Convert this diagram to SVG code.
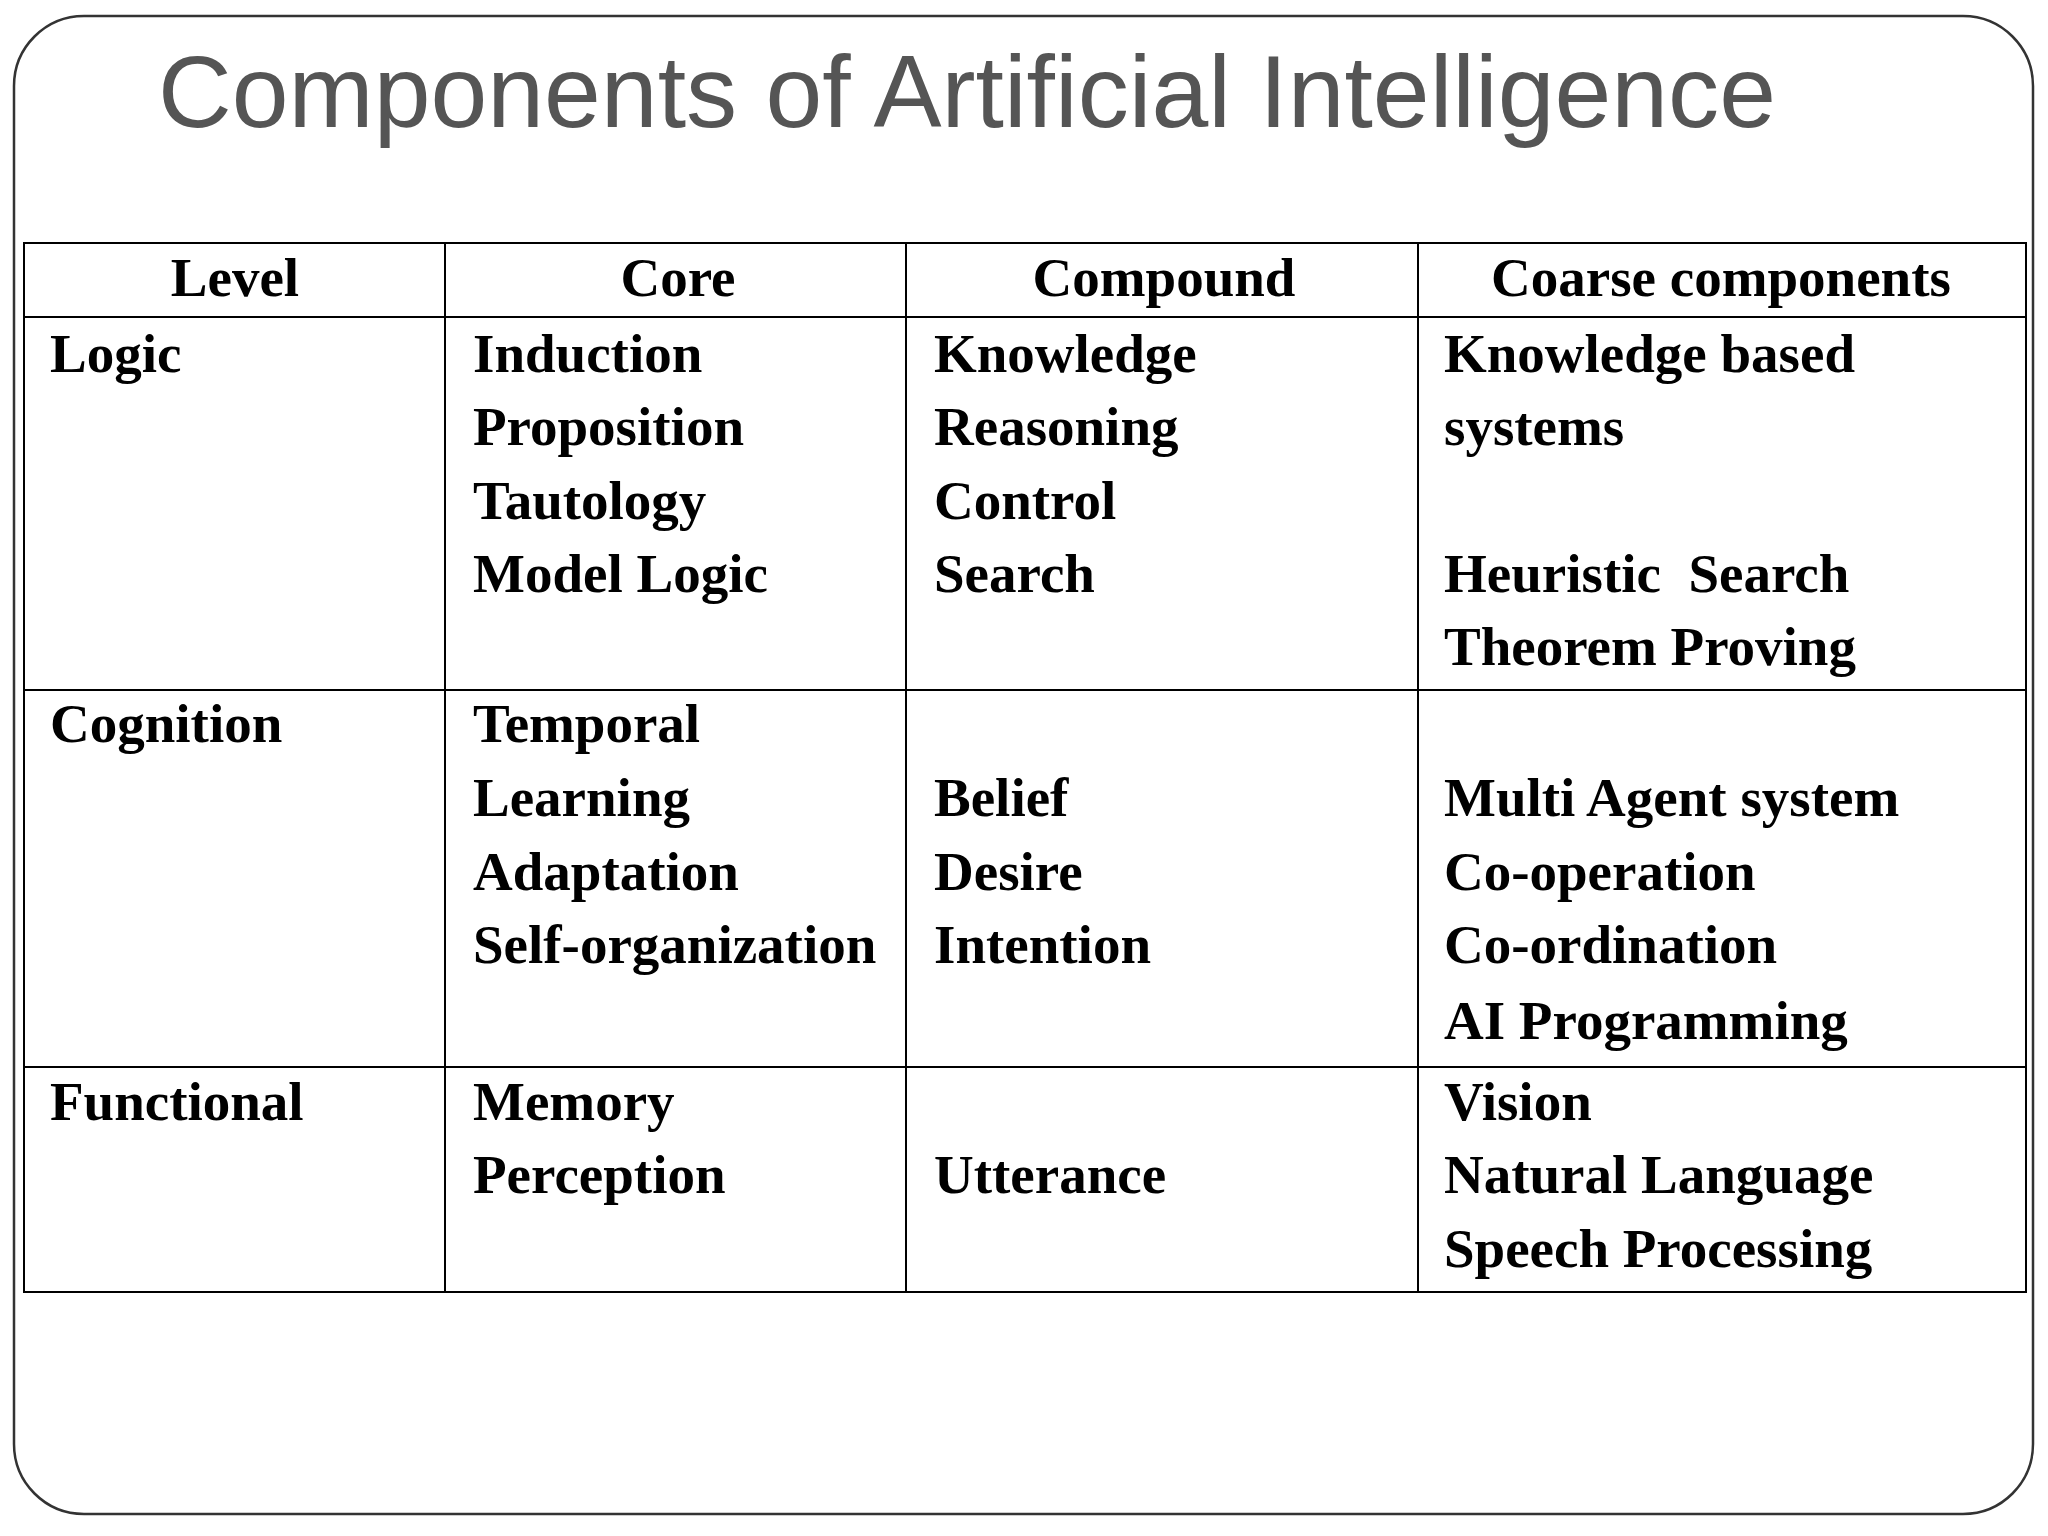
<svg xmlns="http://www.w3.org/2000/svg" width="2048" height="1536" viewBox="0 0 2048 1536">
<style>
.t{font-family:"Liberation Serif",serif;font-weight:bold;font-size:55px;fill:#000}
.h{text-anchor:middle}
.g{stroke:#000;stroke-width:2;fill:none}
</style>
<rect width="2048" height="1536" fill="#fff"/>
<rect x="14" y="16" width="2019" height="1498" rx="70" fill="#fff" stroke="#333" stroke-width="2.5"/>
<text x="158" y="127" font-family="Liberation Sans,Arial,sans-serif" font-size="102" fill="#555" textLength="1618" lengthAdjust="spacingAndGlyphs">Components of Artificial Intelligence</text>
<g id="table" class="g">
<rect x="24" y="243" width="2002" height="1049"/>
<line x1="24" y1="317" x2="2026" y2="317"/>
<line x1="24" y1="690" x2="2026" y2="690"/>
<line x1="24" y1="1067" x2="2026" y2="1067"/>
<line x1="445" y1="243" x2="445" y2="1292"/>
<line x1="906" y1="243" x2="906" y2="1292"/>
<line x1="1418" y1="243" x2="1418" y2="1292"/>
</g>
<g transform="translate(0,2)">
<g id="header" class="t h">
<text x="235" y="294">Level</text><text x="678" y="294">Core</text><text x="1164" y="294">Compound</text><text x="1721" y="294">Coarse components</text>
</g>
<g id="logic" class="t">
<text x="50" y="370">Logic</text>
<text x="473" y="370">Induction</text><text x="473" y="443">Proposition</text><text x="473" y="517">Tautology</text><text x="473" y="590">Model Logic</text>
<text x="934" y="370">Knowledge</text><text x="934" y="443">Reasoning</text><text x="934" y="517">Control</text><text x="934" y="590">Search</text>
<text x="1444" y="370">Knowledge based</text><text x="1444" y="443">systems</text><text x="1444" y="590" xml:space="preserve">Heuristic  Search</text><text x="1444" y="663">Theorem Proving</text>
</g>
<g id="cognition" class="t">
<text x="50" y="740">Cognition</text>
<text x="473" y="740">Temporal</text><text x="473" y="814">Learning</text><text x="473" y="888">Adaptation</text><text x="473" y="961">Self-organization</text>
<text x="934" y="814">Belief</text><text x="934" y="888">Desire</text><text x="934" y="961">Intention</text>
<text x="1444" y="814">Multi Agent system</text><text x="1444" y="888">Co-operation</text><text x="1444" y="961">Co-ordination</text><text x="1444" y="1037">AI Programming</text>
</g>
<g id="functional" class="t">
<text x="50" y="1118">Functional</text>
<text x="473" y="1118">Memory</text><text x="473" y="1191">Perception</text>
<text x="934" y="1191">Utterance</text>
<text x="1444" y="1118">Vision</text><text x="1444" y="1191">Natural Language</text><text x="1444" y="1265">Speech Processing</text>
</g>
</g>
</svg>
